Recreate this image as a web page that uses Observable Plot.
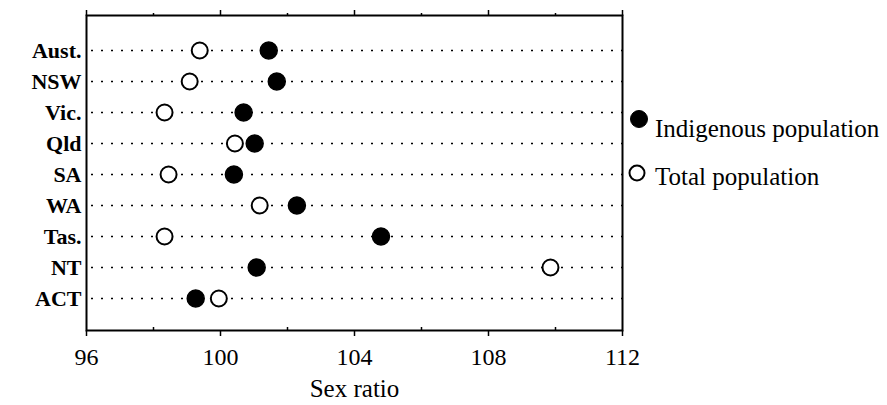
<!DOCTYPE html>
<html>
<head>
<meta charset="utf-8">
<script src="https://cdn.jsdelivr.net/npm/d3@7"></script>
<script src="https://cdn.jsdelivr.net/npm/@observablehq/plot@0.6"></script>
<style>
  html, body { margin: 0; padding: 0; background: #fff; }
  #wrap { position: relative; width: 887px; height: 405px; font-family: "Liberation Serif", Tinos, "Times New Roman", Times, "DejaVu Serif", serif; }
  #wrap svg text { font-family: "Liberation Serif", Tinos, "Times New Roman", Times, "DejaVu Serif", serif; }
  .leg { position: absolute; font-size: 25px; line-height: 25px; color: #000; white-space: nowrap; }
  .legdot { position: absolute; }
</style>
</head>
<body>
<div id="wrap"></div>
<script>
const states = ["Aust.", "NSW", "Vic.", "Qld", "SA", "WA", "Tas.", "NT", "ACT"];
const indigenous = [101.44, 101.68, 100.69, 101.02, 100.40, 102.28, 104.79, 101.08, 99.26];
const total = [99.38, 99.08, 98.33, 100.43, 98.45, 101.17, 98.33, 109.85, 99.95];
const majorTicks = [96, 100, 104, 108, 112];
const minorTicks = [98, 102, 106, 110];
const seriesNames = ["Indigenous population", "Total population"];

const rows = states.map((s, i) => ({state: s, indigenous: indigenous[i], total: total[i]}));
const serif = "'Liberation Serif', Tinos, 'Times New Roman', Times, 'DejaVu Serif', serif";

const chart = Plot.plot({
  width: 887,
  height: 405,
  marginLeft: 86,
  marginRight: 265,
  marginTop: 15,
  marginBottom: 75,
  style: {fontFamily: serif, background: "#fff", color: "#000"},
  x: {domain: [96, 112]},
  y: {domain: states, type: "point", padding: 1, insetTop: 2},
  marks: [
    Plot.ruleY(rows, {y: "state", stroke: "#000", strokeWidth: 1.6, strokeDasharray: "2,8", strokeDashoffset: -5}),
    Plot.axisX({anchor: "bottom", ticks: majorTicks, tickSize: 6, tickPadding: 11, fontSize: 24, label: null, strokeWidth: 1.5}),
    Plot.axisX({anchor: "bottom", ticks: minorTicks, tickSize: -3, tickFormat: () => "", label: null, strokeWidth: 1.5}),
    Plot.axisX({anchor: "top", ticks: majorTicks, tickSize: 6, tickFormat: () => "", label: null, strokeWidth: 1.5}),
    Plot.axisX({anchor: "top", ticks: minorTicks, tickSize: 3, tickFormat: () => "", label: null, strokeWidth: 1.5}),
    Plot.axisY({tickSize: 0, tickPadding: 5, fontSize: 22, fontWeight: "bold", label: null}),
    Plot.frame({stroke: "#000", strokeWidth: 2}),
    Plot.dot(rows, {x: "total", y: "state", r: 8, fill: "#fff", stroke: "#000", strokeWidth: 2}),
    Plot.dot(rows, {x: "indigenous", y: "state", r: 8.5, fill: "#000", stroke: "#000"}),
    Plot.text(["Sex ratio"], {frameAnchor: "bottom", dy: 66, fontSize: 25, fill: "#000"})
  ]
});

const wrap = document.getElementById("wrap");
wrap.appendChild(chart);

// legend (HTML overlay on the right)
const legendItems = [
  {name: seriesNames[0], filled: true, cx: 639, cy: 119, textTop: 116},
  {name: seriesNames[1], filled: false, cx: 637, cy: 173, textTop: 164}
];
for (const it of legendItems) {
  const svg = d3.create("svg").attr("class", "legdot").attr("width", 22).attr("height", 22)
    .style("left", (it.cx - 11) + "px").style("top", (it.cy - 11) + "px");
  svg.append("circle").attr("cx", 11).attr("cy", 11).attr("r", it.filled ? 8.5 : 7.5)
    .attr("fill", it.filled ? "#000" : "#fff").attr("stroke", "#000").attr("stroke-width", it.filled ? 1 : 2);
  wrap.appendChild(svg.node());
  const t = document.createElement("div");
  t.className = "leg";
  t.style.left = "655px";
  t.style.top = it.textTop + "px";
  t.textContent = it.name;
  wrap.appendChild(t);
}
</script>
</body>
</html>
